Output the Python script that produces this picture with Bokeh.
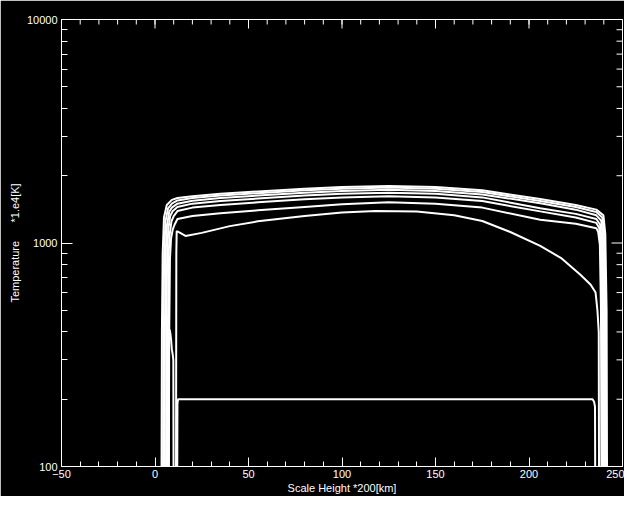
import math
from bokeh.plotting import figure
from bokeh.models import FixedTicker, PrintfTickFormatter
from bokeh.embed import file_html
from bokeh.resources import INLINE

# ---- axis ticks ----
x_major = [-50, 0, 50, 100, 150, 200, 250]
x_minor = [-50, -40, -30, -20, -10, 0, 10, 20, 30, 40, 50, 60, 70, 80, 90, 100,
           110, 120, 130, 140, 150, 160, 170, 180, 190, 200, 210, 220, 230, 240, 250]
y_major = [100, 1000, 10000]
y_minor = [200, 300, 400, 500, 600, 700, 800, 900,
           2000, 3000, 4000, 5000, 6000, 7000, 8000, 9000]

# ---- temperature profiles (scale height, temperature) ----
g1_x = [3.4, 3.7, 4.1, 4.8, 6.3, 9, 12, 20, 35, 55, 80, 100, 125, 150, 175, 206, 225, 236, 239.8, 240.8, 241.5, 241.8]
g1_t = [50, 400, 900, 1300, 1480, 1560, 1590, 1620, 1660, 1700, 1750, 1780, 1800, 1780, 1720, 1575, 1480, 1410, 1330, 1100, 500, 50]

g2_x = [4.2, 4.5, 4.9, 5.6, 7.0, 9, 12, 20, 35, 55, 80, 100, 125, 150, 175, 206, 225, 236, 239.2, 240.2, 240.9, 241.2]
g2_t = [50, 400, 900, 1250, 1430, 1500, 1550, 1590, 1630, 1670, 1720, 1750, 1770, 1750, 1690, 1540, 1450, 1375, 1300, 1080, 500, 50]

g3_x = [5.0, 5.3, 5.7, 6.4, 7.6, 9, 12, 20, 35, 55, 80, 100, 125, 150, 175, 206, 225, 236, 238.6, 239.6, 240.3, 240.6]
g3_t = [50, 400, 900, 1200, 1380, 1440, 1500, 1545, 1590, 1630, 1680, 1710, 1730, 1710, 1650, 1505, 1410, 1330, 1260, 1050, 500, 50]

g4_x = [5.8, 6.1, 6.5, 7.1, 8.1, 9.5, 12, 20, 35, 55, 80, 100, 125, 150, 175, 206, 225, 236, 238.0, 239.0, 239.7, 240.0]
g4_t = [50, 400, 900, 1150, 1320, 1390, 1450, 1500, 1540, 1580, 1630, 1660, 1680, 1660, 1600, 1430, 1350, 1280, 1210, 1020, 500, 50]

g5_x = [6.6, 6.9, 7.3, 7.9, 8.8, 10, 12, 20, 35, 55, 80, 100, 125, 150, 175, 206, 225, 236, 237.5, 238.4, 239.1, 239.4]
g5_t = [50, 400, 900, 1100, 1250, 1320, 1390, 1440, 1480, 1520, 1570, 1600, 1620, 1600, 1540, 1385, 1300, 1230, 1170, 1000, 500, 50]

g6_x = [7.3, 7.6, 8.0, 8.6, 9.5, 10.5, 12, 20, 35, 55, 80, 100, 125, 150, 175, 206, 225, 236, 237.0, 237.9, 238.5, 238.8]
g6_t = [50, 400, 850, 1050, 1150, 1210, 1280, 1320, 1360, 1400, 1450, 1490, 1520, 1500, 1440, 1270, 1220, 1165, 1120, 980, 500, 50]

c7_x = [11.2, 11.4, 11.6, 13, 16.3, 25, 40, 55, 80, 100, 118, 140, 160, 175, 190, 206, 217, 227.5, 233, 235.6, 236.6, 237.3, 237.5]
c7_t = [50, 900, 1130, 1115, 1075, 1110, 1190, 1250, 1320, 1370, 1390, 1385, 1330, 1255, 1120, 970, 858, 721, 650, 600, 499, 400, 50]

c8_x = [7.3, 7.5, 7.8, 8.2, 8.6, 9.0, 9.4, 9.8, 10.0, 11.8, 12.0, 12.3, 100, 234.0, 234.8, 235.3, 235.5]
c8_t = [50, 380, 410, 395, 370, 335, 320, 300, 50, 50, 190, 200, 200, 200, 195, 185, 50]

profiles = [(g1_x, g1_t), (g2_x, g2_t), (g3_x, g3_t), (g4_x, g4_t),
            (g5_x, g5_t), (g6_x, g6_t), (c7_x, c7_t), (c8_x, c8_t)]

FONT = "Liberation Sans"

p = figure(width=624, height=496,
           x_range=(x_major[0], x_major[-1]), y_range=(y_major[0], y_major[-1]),
           y_axis_type="log",
           output_backend="svg", toolbar_location=None,
           background_fill_color="black", border_fill_color="black",
           outline_line_color="white", outline_line_width=1,
           min_border_left=61, min_border_right=2,
           min_border_top=19, min_border_bottom=26)
p.grid.visible = False

for xs, ts in profiles:
    p.line(xs, ts, line_color="white", line_width=2)

# mirrored ticks on the top and right edges of the box
y_top = y_major[-1]
x_right = x_major[-1]
p.ray(x=x_major, y=[y_top] * len(x_major), length=9, length_units="screen",
      angle=-math.pi / 2, line_color="white", line_width=1)
p.ray(x=x_minor, y=[y_top] * len(x_minor), length=5, length_units="screen",
      angle=-math.pi / 2, line_color="white", line_width=1)
p.ray(x=[x_right] * len(y_major), y=y_major, length=11, length_units="screen",
      angle=math.pi, line_color="white", line_width=1)
p.ray(x=[x_right] * len(y_minor), y=y_minor, length=6, length_units="screen",
      angle=math.pi, line_color="white", line_width=1)


def style(ax, major_in, minor_in):
    ax.axis_line_color = "white"
    ax.axis_line_width = 1
    ax.major_tick_line_color = "white"
    ax.minor_tick_line_color = "white"
    ax.major_tick_in = major_in
    ax.major_tick_out = 0
    ax.minor_tick_in = minor_in
    ax.minor_tick_out = 0
    ax.major_label_text_color = "white"
    ax.major_label_text_font = FONT
    ax.major_label_text_font_size = "11px"
    ax.axis_label_text_color = "white"
    ax.axis_label_text_font = FONT
    ax.axis_label_text_font_size = "11px"
    ax.axis_label_text_font_style = "normal"


xb = p.xaxis[0]
xb.ticker = FixedTicker(ticks=x_major, minor_ticks=x_minor)
style(xb, 9, 5)
xb.major_label_standoff = 3
xb.axis_label = "Scale Height *200[km]"
xb.axis_label_standoff = 1

yl = p.yaxis[0]
yl.ticker = FixedTicker(ticks=y_major, minor_ticks=y_minor)
yl.formatter = PrintfTickFormatter(format="%d")
style(yl, 11, 6)
yl.major_label_standoff = 4
yl.axis_label = "Temperature\u00a0\u00a0\u00a0\u00a0\u00a0\u00a0*1.e4[K]"
yl.axis_label_standoff = 3

open("out.html", "w").write(file_html(p, INLINE))
